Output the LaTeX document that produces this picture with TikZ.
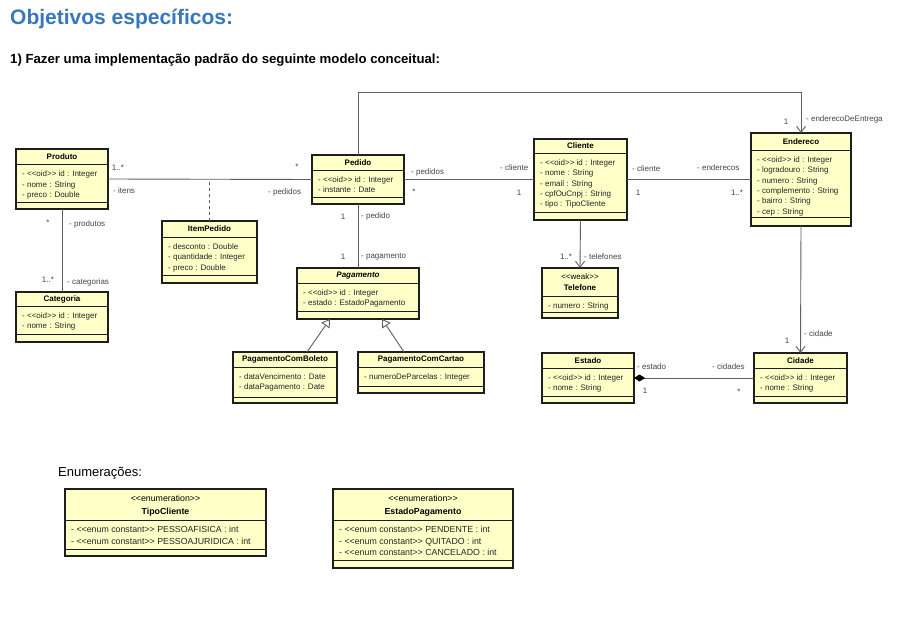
\documentclass[tikz,border=0pt]{standalone}
\usepackage{fontspec}
\setmainfont{Liberation Sans}
\usetikzlibrary{arrows.meta,calc}
\definecolor{boxfill}{RGB}{255,255,200}
\definecolor{boxline}{RGB}{30,30,30}
\definecolor{conn}{RGB}{95,95,95}
\definecolor{lbl}{RGB}{70,70,70}
\definecolor{titleblue}{RGB}{55,119,189}
\newcommand\stereo[1]{<\kern0pt<#1>\kern0pt>}
\def\tshift{0}
\def\boxfs{8}
\def\titlebs{11.5}
\def\attrls{10.4}
\def\attroff{12.3}
\tikzset{
  classbox/.style={draw=boxline, line width=1.4pt, fill=boxfill, inner sep=0pt, outer sep=0pt},
  sepline/.style={draw=boxline, line width=0.8pt},
  ctitle/.style={font=\fontsize{\boxfs}{\titlebs}\selectfont\bfseries, inner sep=0pt, align=center, text=black},
  cattr/.style={font=\fontsize{\boxfs}{10}\selectfont, inner sep=0pt, anchor=base west, text=black!85},
  assoc/.style={draw=conn, line width=0.9pt},
  openarrow/.style={-{Straight Barb[length=6pt,width=9pt,line width=0.9pt]}},
  genarrow/.style={-{Triangle[open,length=8pt,width=10pt,line width=0.9pt]}},
  comptail/.style={{Diamond[length=11pt,width=7pt,color=black,fill=black]}-},
  lab/.style={font=\fontsize{8}{9}\selectfont, text=lbl, inner sep=0pt, text height=5.6pt, text depth=0pt},
  labw/.style={lab, anchor=west},
  heading/.style={font=\fontsize{21}{25}\selectfont\bfseries, text=titleblue, inner sep=0pt, anchor=base west},
  subheading/.style={font=\fontsize{13.2}{15}\selectfont\bfseries, text=black, inner sep=0pt, anchor=base west},
  enumheading/.style={font=\fontsize{13}{15}\selectfont, text=black, inner sep=0pt, anchor=base west}
}
% name, x1, y1, x2, y2, sep1, sep2, title, attributes
\newcommand\umlbox[9]{%
  \node[classbox, minimum width={(#4-#2)*1pt}, minimum height={(#5-#3)*1pt}] (#1) at ({(#2+#4)/2},{(#3+#5)/2}) {};
  \draw[sepline] (#2,#6) -- (#4,#6);
  \draw[sepline] (#2,#7) -- (#4,#7);
  \node[ctitle] (#1-t) at ({(#2+#4)/2},{(#3+#6)/2+\tshift}) {#8};
  \foreach \a [count=\i] in {#9} {\node[cattr] (#1-a\i) at ({#2+6},{#6+\attroff+(\i-1)*\attrls}) {\a};}
}
\begin{document}
\begin{tikzpicture}[x=1pt,y=-1pt]
\fill[white] (0,0) rectangle (905,623);
\useasboundingbox (0,0) rectangle (905,623);

\node[heading] (h1) at (10,25) {Objetivos específicos:};
\node[subheading] (h2) at (10,64) {1) Fazer uma implementação padrão do seguinte modelo conceitual:};
\node[enumheading] (h3) at (58,476) {Enumerações:};

\coordinate (route) at (0,92);

\umlbox{produto}{16}{149}{108}{209}{164.5}{202}{Produto}{- \stereo{oid} id : Integer, - nome : String, - preco : Double}
\umlbox{categoria}{16}{292}{108}{342}{306}{334}{Categoria}{- \stereo{oid} id : Integer, - nome : String}
\umlbox{itempedido}{162}{221}{257}{283}{237}{275}{ItemPedido}{- desconto : Double, - quantidade : Integer, - preco : Double}
\umlbox{pedido}{312}{155}{404}{204}{170}{197}{Pedido}{- \stereo{oid} id : Integer, - instante : Date}
\umlbox{cliente}{534}{139}{627}{220}{153}{212}{Cliente}{- \stereo{oid} id : Integer, - nome : String, - email : String, - cpfOuCnpj : String, - tipo : TipoCliente}
\umlbox{endereco}{751}{133}{851}{226}{150}{217}{Endereco}{- \stereo{oid} id : Integer, - logradouro : String, - numero : String, - complemento : String, - bairro : String, - cep : String}
\umlbox{pagamento}{297}{268}{419}{319}{283}{311}{\textit{Pagamento}}{- \stereo{oid} id : Integer, - estado : EstadoPagamento}
\umlbox{telefone}{542}{268}{618}{318}{296}{312}{{\mdseries\stereo{weak}}\\Telefone}{- numero : String}
\umlbox{boleto}{233}{352}{337}{403}{367}{397}{PagamentoComBoleto}{- dataVencimento : Date, - dataPagamento : Date}
\umlbox{cartao}{358}{352}{484}{393}{367}{386}{PagamentoComCartao}{- numeroDeParcelas : Integer}
\umlbox{estado}{542}{353}{634}{403}{368}{396}{Estado}{- \stereo{oid} id : Integer, - nome : String}
\umlbox{cidade}{754}{353}{847}{403}{368}{396}{Cidade}{- \stereo{oid} id : Integer, - nome : String}
\def\tshift{1}
\def\boxfs{8.8}
\def\titlebs{13.5}
\def\attrls{11.5}
\def\attroff{12.2}
\umlbox{tipocliente}{65}{489}{266}{556}{520.5}{549}{{\mdseries\stereo{enumeration}}\\TipoCliente}{- \stereo{enum constant} PESSOAFISICA : int, - \stereo{enum constant} PESSOAJURIDICA : int}
\umlbox{estadopag}{333}{489}{513}{568}{520.5}{560}{{\mdseries\stereo{enumeration}}\\EstadoPagamento}{- \stereo{enum constant} PENDENTE : int, - \stereo{enum constant} QUITADO : int, - \stereo{enum constant} CANCELADO : int}

% connectors
\draw[assoc] (produto.east) -- (pedido.west);
\draw[assoc, dash pattern=on 3pt off 3pt] (itempedido.north) -- (itempedido.north |- produto.east);
\draw[assoc] (produto.south) -- (categoria.north);
\draw[assoc] (pedido.east) -- (cliente.west);
\draw[assoc] (cliente.east) -- (endereco.west);
\draw[assoc, openarrow] (pedido.north) -- (pedido.north |- route) -| (endereco.north);
\draw[assoc] (pedido.south) -- (pagamento.north);
\draw[assoc, openarrow] (cliente.south) -- (telefone.north);
\draw[assoc, openarrow] (endereco.south) -- (cidade.north);
\draw[assoc, comptail] (estado.east) -- (cidade.west);
\draw[assoc, genarrow] ([xshift=74pt]boleto.north west) -- ([xshift=33pt]pagamento.south west);
\draw[assoc, genarrow] ([xshift=46pt]cartao.north west) -- ([xshift=85pt]pagamento.south west);

% labels
\node[lab] (l1) at (118,168) {1..*};
\node[labw] (l2) at (113,191) {- itens};
\node[lab] (l3) at (297,167) {*};
\node[labw] (l4) at (268,192) {- pedidos};
\node[lab] (l5) at (48,223) {*};
\node[labw] (l6) at (69,224) {- produtos};
\node[lab] (l7) at (48,280) {1..*};
\node[labw] (l8) at (67,282) {- categorias};
\node[labw] (l9) at (411,172) {- pedidos};
\node[lab] (l10) at (414,192) {*};
\node[labw] (l11) at (500,168) {- cliente};
\node[lab] (l12) at (519,193) {1};
\node[lab] (l13) at (343,217) {1};
\node[labw] (l14) at (361,216) {- pedido};
\node[lab] (l15) at (343,257) {1};
\node[labw] (l16) at (361,256) {- pagamento};
\node[lab] (l17) at (566,257) {1..*};
\node[labw] (l18) at (584,257) {- telefones};
\node[labw] (l19) at (632,169) {- cliente};
\node[lab] (l20) at (638,193) {1};
\node[labw] (l21) at (697,168) {- enderecos};
\node[lab] (l22) at (737,193) {1..*};
\node[lab] (l23) at (786,122) {1};
\node[labw] (l24) at (806,119) {- enderecoDeEntrega};
\node[lab] (l25) at (787,341) {1};
\node[labw] (l26) at (804,334) {- cidade};
\node[labw] (l27) at (637,367) {- estado};
\node[lab] (l28) at (645,391) {1};
\node[labw] (l29) at (712,367) {- cidades};
\node[lab] (l30) at (739,392) {*};
\end{tikzpicture}
\end{document}
